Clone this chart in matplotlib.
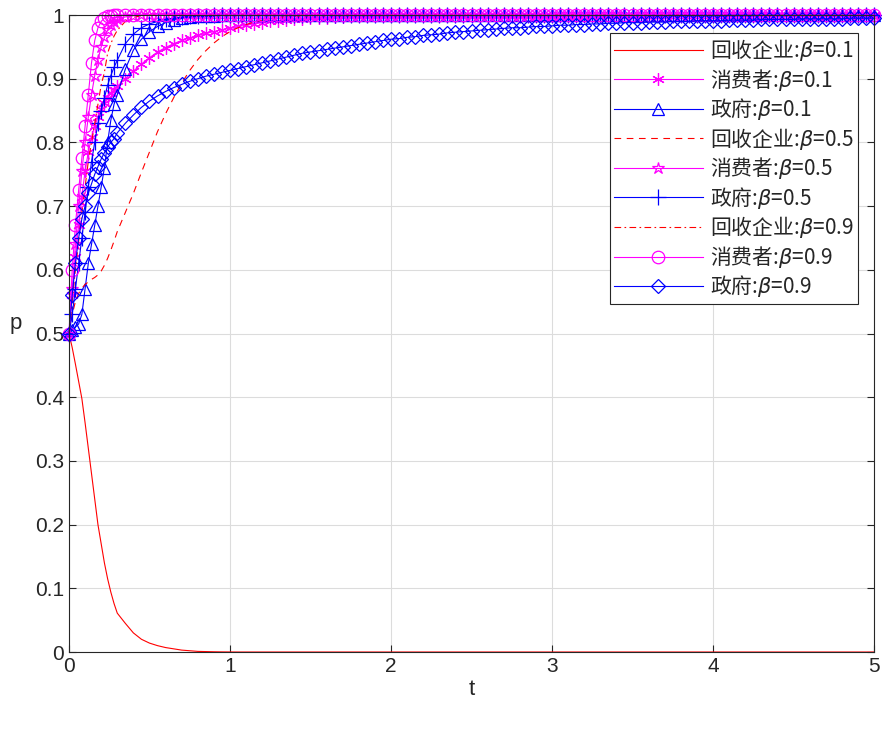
import numpy as np
import matplotlib
matplotlib.use('Agg')
import matplotlib.pyplot as plt

plt.rcParams['font.family'] = ['Liberation Sans', 'Noto Sans CJK SC', 'DejaVu Sans']
plt.rcParams['mathtext.fontset'] = 'custom'
plt.rcParams['mathtext.rm'] = 'Noto Sans CJK SC'
plt.rcParams['mathtext.it'] = 'DejaVu Sans:italic'

# sample times: dense at start, then every 0.05
t_early = [0.00, 0.02, 0.04, 0.06, 0.08, 0.10, 0.12, 0.14, 0.16, 0.18, 0.20, 0.22, 0.24, 0.26, 0.28]
t_late = np.round(np.linspace(0.30, 5.00, 95), 2).tolist()
t = t_early + t_late

# 回收企业 (recycling firms)
recycler_01 = ([0.500, 0.478, 0.452, 0.425, 0.398, 0.360, 0.320, 0.280, 0.240, 0.200, 0.170, 0.140, 0.115, 0.094, 0.076]
               + [0.061, 0.045, 0.030, 0.020, 0.014, 0.010, 0.007, 0.005, 0.003, 0.002, 0.001, 0.0007, 0.0004, 0.0002, 0.0001]
               + [0.0] * 80)
recycler_05 = ([0.500, 0.530, 0.550, 0.563, 0.571, 0.577, 0.581, 0.585, 0.588, 0.592, 0.598, 0.607, 0.618, 0.631, 0.645]
               + [0.660, 0.690, 0.720, 0.753, 0.785, 0.817, 0.845, 0.870, 0.893, 0.913, 0.930, 0.944, 0.956, 0.966, 0.974]
               + [0.980, 0.985, 0.989, 0.992, 0.994, 0.996, 0.997, 0.998, 0.998, 0.999, 0.999, 0.999]
               + [1.0] * 68)
recycler_09 = ([0.500, 0.550, 0.600, 0.645, 0.690, 0.730, 0.770, 0.800, 0.830, 0.860, 0.890, 0.910, 0.940, 0.955, 0.967]
               + [0.976, 0.990, 0.996, 0.999]
               + [1.0] * 91)

# 消费者 (consumers)
consumer_01 = ([0.500, 0.560, 0.620, 0.670, 0.715, 0.755, 0.785, 0.808, 0.826, 0.840, 0.852, 0.862, 0.870, 0.877, 0.883]
               + [0.888, 0.900, 0.912, 0.923, 0.933, 0.942, 0.949, 0.955, 0.960, 0.964, 0.968, 0.971, 0.974, 0.977, 0.979]
               + [0.982, 0.984, 0.986, 0.988, 0.990, 0.991, 0.992, 0.993, 0.994, 0.995,
                  0.996, 0.996, 0.997, 0.997, 0.998, 0.998, 0.998, 0.999, 0.999, 0.999]
               + [0.999] * 20 + [1.0] * 40)
consumer_05 = ([0.500, 0.570, 0.640, 0.700, 0.755, 0.800, 0.840, 0.875, 0.905, 0.930, 0.950, 0.965, 0.976, 0.984, 0.989]
               + [0.993, 0.997, 0.999]
               + [1.0] * 92)
consumer_09 = ([0.500, 0.600, 0.670, 0.725, 0.775, 0.825, 0.875, 0.925, 0.960, 0.980, 0.990, 0.995, 0.998, 0.999, 1.0]
               + [1.0] * 95)

# 政府 (government)
gov_01 = ([0.500, 0.505, 0.510, 0.515, 0.530, 0.570, 0.610, 0.640, 0.670, 0.700, 0.730, 0.760, 0.800, 0.835, 0.860]
          + [0.875, 0.915, 0.945, 0.962, 0.974, 0.982, 0.988, 0.992, 0.995, 0.997, 0.998, 0.999, 0.999]
          + [1.0] * 82)
gov_05 = ([0.500, 0.530, 0.570, 0.610, 0.650, 0.690, 0.730, 0.770, 0.800, 0.830, 0.850, 0.870, 0.890, 0.905, 0.918]
          + [0.929, 0.955, 0.970, 0.980, 0.986, 0.990, 0.993, 0.995, 0.997, 0.998, 0.999, 0.999]
          + [1.0] * 83)
gov_09 = ([0.500, 0.560, 0.610, 0.650, 0.680, 0.700, 0.720, 0.735, 0.750, 0.762, 0.774, 0.784, 0.793, 0.800, 0.806]
          + [0.815, 0.830, 0.843, 0.855, 0.865, 0.873, 0.880, 0.886, 0.891, 0.896, 0.900, 0.904, 0.907, 0.910, 0.913]
          + [0.916, 0.919, 0.922, 0.925, 0.928, 0.931, 0.934, 0.937, 0.940, 0.942,
             0.944, 0.946, 0.948, 0.950, 0.952, 0.954, 0.956, 0.958, 0.960, 0.962]
          + [0.963, 0.965, 0.966, 0.968, 0.969, 0.970, 0.972, 0.973, 0.974, 0.975,
             0.976, 0.977, 0.978, 0.979, 0.980, 0.980, 0.981, 0.982, 0.982, 0.983]
          + [0.984, 0.984, 0.985, 0.985, 0.986, 0.986, 0.987, 0.987, 0.988, 0.988,
             0.988, 0.989, 0.989, 0.989, 0.990, 0.990, 0.990, 0.991, 0.991, 0.991]
          + [0.991, 0.992, 0.992, 0.992, 0.992, 0.993, 0.993, 0.993, 0.993, 0.993,
             0.994, 0.994, 0.994, 0.994, 0.994, 0.994, 0.995, 0.995, 0.995, 0.995])

labels = ['回收企业:$\\beta$=0.1', '消费者:$\\beta$=0.1', '政府:$\\beta$=0.1',
          '回收企业:$\\beta$=0.5', '消费者:$\\beta$=0.5', '政府:$\\beta$=0.5',
          '回收企业:$\\beta$=0.9', '消费者:$\\beta$=0.9', '政府:$\\beta$=0.9']
series = [recycler_01, consumer_01, gov_01,
          recycler_05, consumer_05, gov_05,
          recycler_09, consumer_09, gov_09]

red, mag, blue = '#ff0000', '#ff00ff', '#0000ff'
styles = [
    dict(color=red, ls='-', marker=None),
    dict(color=mag, ls='-', marker=(6, 2, 0), ms=9),
    dict(color=blue, ls='-', marker='^', ms=9),
    dict(color=red, ls=(0, (6, 5)), marker=None),
    dict(color=mag, ls='-', marker='*', ms=9),
    dict(color=blue, ls='-', marker='+', ms=11),
    dict(color=red, ls=(0, (6, 3, 1.5, 3)), marker=None),
    dict(color=mag, ls='-', marker='o', ms=9),
    dict(color=blue, ls='-', marker='D', ms=7.5),
]

fig = plt.figure(figsize=(8.82, 7.29), dpi=100)
ax = fig.add_axes([0.0782, 0.1056, 0.9128, 0.8738])

for y, lab, st in zip(series, labels, styles):
    ax.plot(t, y, color=st['color'], ls=st['ls'], lw=0.8, marker=st['marker'],
            ms=st.get('ms', 6), mfc='none', mew=0.9, label=lab, clip_on=False)

ax.set_xlim(0, 5)
ax.set_ylim(0, 1)
ax.set_xticks([0, 1, 2, 3, 4, 5])
ax.set_yticks(np.round(np.arange(0, 1.01, 0.1), 1))
ax.set_yticklabels(['0', '0.1', '0.2', '0.3', '0.4', '0.5', '0.6', '0.7', '0.8', '0.9', '1'])
ax.grid(True, color='#dcdcdc', lw=0.8)
ax.set_axisbelow(True)
ax.tick_params(direction='in', top=True, right=True, length=5, labelsize=15,
               colors='#262626', width=0.8)
for s in ax.spines.values():
    s.set_color('#262626')
    s.set_linewidth(0.8)
ax.set_xlabel('t', fontsize=16, color='#262626', labelpad=2)
ax.set_ylabel('p', fontsize=16, color='#262626', rotation=0, labelpad=14)

leg = ax.legend(loc='upper right', bbox_to_anchor=(0.98, 0.972), borderaxespad=0,
                prop={'family': 'Noto Sans CJK SC', 'size': 15},
                handlelength=4.25, handletextpad=0.35, labelspacing=0.17,
                fancybox=False, framealpha=1, edgecolor='#262626', borderpad=0.2)
leg.get_frame().set_linewidth(0.8)
leg.set_zorder(10)
for txt in leg.get_texts():
    txt.set_color('#262626')

plt.savefig('out.png', dpi=100)
